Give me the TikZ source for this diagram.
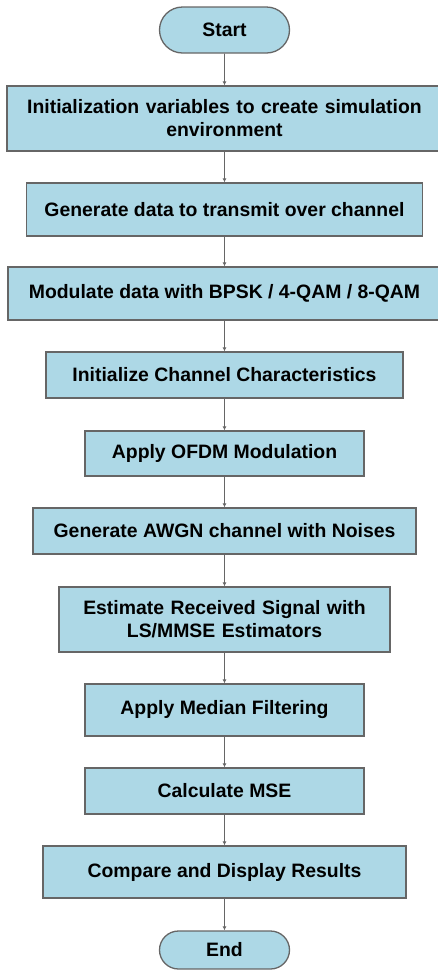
\documentclass[tikz,border=0pt]{standalone}
\usepackage{fontspec}
\setmainfont{Liberation Sans}
\usetikzlibrary{shapes.misc,arrows.meta}
\definecolor{boxblue}{HTML}{ADD8E6}
\definecolor{edgegray}{HTML}{666666}
\tikzset{
    procbox/.style={draw=edgegray, line width=1.3pt, fill=boxblue, inner sep=0pt,
        align=center, font=\fontsize{19.4}{23}\selectfont\bfseries},
    termbox/.style={procbox, rounded rectangle},
    flow/.style={draw=edgegray, line width=0.9pt, -{Latex[length=4pt,width=4pt]}}
}
\begin{document}
\begin{tikzpicture}[x=1pt, y=1pt]
                \useasboundingbox (0,0) rectangle (438,-970);
                \node[termbox, minimum width=130pt, minimum height=46pt] (start) at (224.5,-30) {Start};
                \node[procbox, minimum width=435pt, minimum height=65pt, text width=425pt] (init) at (224.5,-118.5) {Initialization variables to create simulation\\ environment};
                \node[procbox, minimum width=396pt, minimum height=53pt] (gen) at (224.5,-209.5) {Generate data to transmit over channel};
                \node[procbox, minimum width=433pt, minimum height=53pt] (mod) at (224.5,-293.5) {Modulate data with BPSK / 4-QAM / 8-QAM};
                \node[procbox, minimum width=357pt, minimum height=46pt] (chan) at (224.5,-375) {Initialize Channel Characteristics};
                \node[procbox, minimum width=279pt, minimum height=45pt] (ofdm) at (224.5,-453.5) {Apply OFDM Modulation};
                \node[procbox, minimum width=383pt, minimum height=46pt] (awgn) at (224.5,-531) {Generate AWGN channel with Noises};
                \node[procbox, minimum width=331pt, minimum height=65pt, text width=320pt] (est) at (224.5,-619.5) {Estimate Received Signal with\\ LS/MMSE Estimators};
                \node[procbox, minimum width=279pt, minimum height=52pt] (med) at (224.5,-710) {Apply Median Filtering};
                \node[procbox, minimum width=279pt, minimum height=46pt] (mse) at (224.5,-791) {Calculate MSE};
                \node[procbox, minimum width=363pt, minimum height=52pt] (cmp) at (224.5,-872) {Compare and Display Results};
                \node[termbox, minimum width=130pt, minimum height=38pt] (end) at (224.5,-950) {End};
                \foreach \a/\b in {start/init, init/gen, gen/mod, mod/chan, chan/ofdm, ofdm/awgn, awgn/est, est/med, med/mse, mse/cmp, cmp/end}
                    \draw[flow] (\a) -- (\b);
            \end{tikzpicture}
\end{document}
